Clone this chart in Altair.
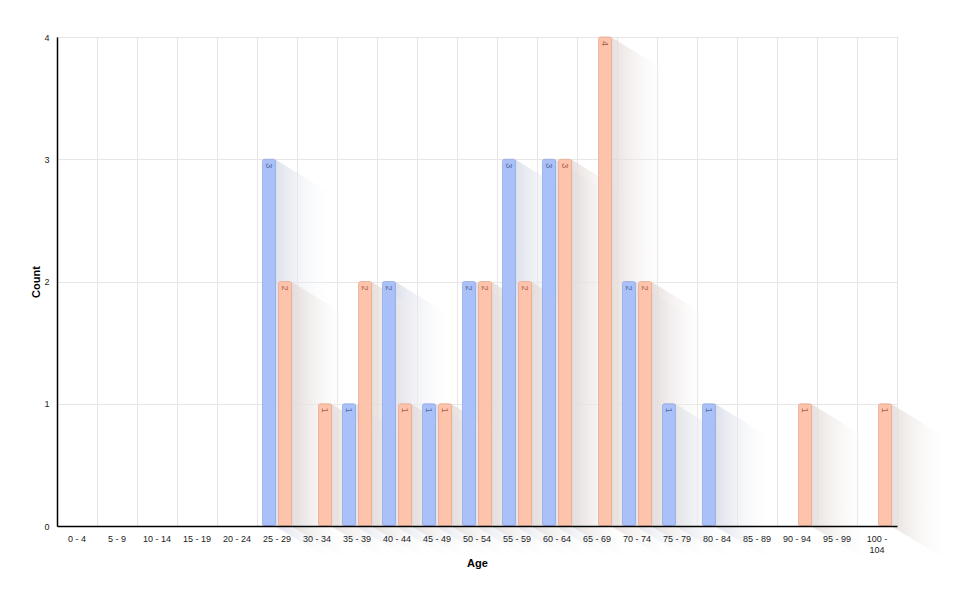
import pandas as pd
import altair as alt

# faixas etárias e contagens por série
faixas = ["0 - 4", "5 - 9", "10 - 14", "15 - 19", "20 - 24", "25 - 29", "30 - 34",
          "35 - 39", "40 - 44", "45 - 49", "50 - 54", "55 - 59", "60 - 64", "65 - 69",
          "70 - 74", "75 - 79", "80 - 84", "85 - 89", "90 - 94", "95 - 99", "100 - 104"]
series = ["Male", "Female"]
valores_male = [0, 0, 0, 0, 0, 3, 0, 1, 2, 1, 2, 3, 3, 0, 2, 1, 1, 0, 0, 0, 0]
valores_female = [0, 0, 0, 0, 0, 2, 1, 2, 1, 1, 2, 2, 3, 4, 2, 0, 0, 0, 1, 0, 1]
ticks_y = [0, 1, 2, 3, 4]

cores = ["#a9c0f8", "#fdc3ab"]
cores_borda = ["#93a9e2", "#e8ab93"]
cores_texto = ["#56689a", "#a8614a"]

linhas = []
for i, f in enumerate(faixas):
    for s, vals in zip(series, [valores_male, valores_female]):
        if vals[i] > 0:
            linhas.append({"Age": f, "serie": s, "Count": vals[i], "idx": i})
df = pd.DataFrame(linhas)

# sombra longa: paralelogramo saindo do canto superior direito de cada barra
borda_dir = {"Male": 0.45, "Female": 0.85}
sombra = []
for k, r in df.iterrows():
    x0 = r["idx"] + borda_dir[r["serie"]]
    sombra.append({"id": k, "serie": r["serie"], "sx": x0, "top": r["Count"], "bot": 0})
    sombra.append({"id": k, "serie": r["serie"], "sx": x0 + 1.5,
                   "top": r["Count"] - 0.3, "bot": -0.3})
df_sombra = pd.DataFrame(sombra)

escala_y = alt.Scale(domain=[0, 4], nice=False)
escala_x = alt.Scale(domain=faixas, paddingInner=0, paddingOuter=0)
escala_off = alt.Scale(domain=series, paddingInner=0.19, paddingOuter=0.34)
escala_cor = alt.Scale(domain=series, range=cores)

# eixos só com a grade (desenhados por baixo de tudo)
eixo_grade_x = alt.Axis(orient="top", values=list(range(len(faixas) + 1)), grid=True,
                        gridColor="#e6e6e6", labels=False, ticks=False, domain=False, title=None)
eixo_grade_y = alt.Axis(orient="right", values=ticks_y, grid=True, gridColor="#e6e6e6",
                        labels=False, ticks=False, domain=False, title=None)


def camada_sombra(serie, c0):
    return alt.Chart(df_sombra[df_sombra["serie"] == serie]).mark_area(
        clip=False,
        color=alt.Gradient(
            gradient="linear",
            stops=[alt.GradientStop(color=c0, offset=0),
                   alt.GradientStop(color="rgba(255,255,255,0)", offset=1)],
            x1=0, x2=1, y1=0, y2=0,
        ),
    ).encode(
        x=alt.X("sx:Q", scale=alt.Scale(domain=[0, len(faixas)], nice=False, zero=False),
                axis=eixo_grade_x),
        y=alt.Y("top:Q", scale=escala_y, axis=eixo_grade_y),
        y2="bot:Q",
        detail="id:N",
    )


sombras = alt.layer(
    camada_sombra("Male", "rgba(212,217,230,0.8)"),
    camada_sombra("Female", "rgba(224,215,211,0.8)"),
)

base = alt.Chart(df).encode(
    x=alt.X("Age:N", sort=faixas, scale=escala_x, title="Age",
            axis=alt.Axis(orient="bottom", labelAngle=0, ticks=False, grid=False, zindex=1,
                          domainColor="#000000", domainWidth=1.5, labelPadding=8,
                          labelFontSize=9, labelColor="#222222",
                          titleFontSize=11, titleFontWeight="bold", titlePadding=3,
                          labelExpr="length(datum.label) > 8 ? [slice(datum.label, 0, 5), slice(datum.label, 6)] : datum.label")),
    xOffset=alt.XOffset("serie:N", scale=escala_off),
    y=alt.Y("Count:Q", scale=escala_y, title="Count",
            axis=alt.Axis(orient="left", values=ticks_y, format="d", ticks=False, grid=False,
                          zindex=1, domainColor="#000000", domainWidth=1.5, labelPadding=8,
                          labelFontSize=9, labelColor="#222222",
                          titleFontSize=11, titleFontWeight="bold", titlePadding=2)),
)

barras = base.mark_bar(cornerRadius=2, strokeWidth=0.8).encode(
    color=alt.Color("serie:N", scale=escala_cor, legend=None),
    stroke=alt.Stroke("serie:N", scale=alt.Scale(domain=series, range=cores_borda), legend=None),
)

rotulos = base.mark_text(angle=90, align="left", baseline="middle", dx=4, fontSize=9,
                         font="Liberation Sans").encode(
    text="Count:Q",
    color=alt.Color("serie:N", scale=alt.Scale(domain=series, range=cores_texto), legend=None),
)

principal = alt.layer(barras, rotulos).resolve_scale(color="independent")

grafico = alt.layer(sombras, principal).resolve_scale(
    x="independent", y="independent", color="independent"
).resolve_axis(x="independent", y="independent").properties(
    width=840, height=489,
    autosize=alt.AutoSizeParams(type="none"),
    padding={"left": 49, "top": 29, "right": 60, "bottom": 70},
).configure_view(strokeWidth=0).configure(font="Liberation Sans")

grafico.save("out.html", embed_options={"renderer": "svg", "actions": False})
